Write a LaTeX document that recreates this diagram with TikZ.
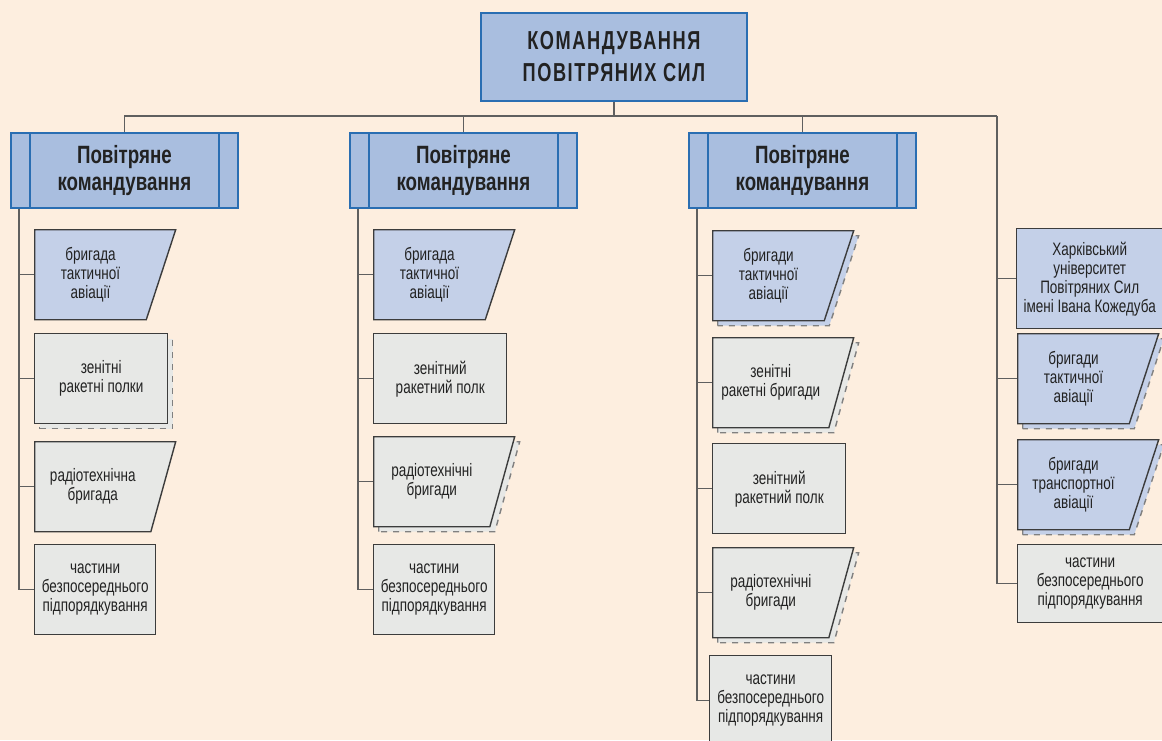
\documentclass[tikz,border=0pt]{standalone}
\usepackage{fontspec}
\setmainfont{Liberation Sans}[FakeStretch=0.75]
\newfontfamily\capsfont{Liberation Sans}[FakeStretch=0.7, LetterSpace=6]
\usepackage{tikz}
\usetikzlibrary{positioning, shapes.geometric, shadows}

\definecolor{paper}{RGB}{253,238,223}
\definecolor{headblue}{RGB}{169,190,223}
\definecolor{headline}{RGB}{42,110,178}
\definecolor{leafblue}{RGB}{196,208,232}
\definecolor{leafgray}{RGB}{231,232,230}
\definecolor{leafline}{RGB}{60,60,60}
\definecolor{wirecol}{RGB}{95,95,95}
\definecolor{ink}{RGB}{34,34,34}

\begin{document}
\begin{tikzpicture}[x=0.5pt, y=-0.5pt,
    wire/.style={draw=wirecol, line width=0.7pt},
    topbox/.style={draw=headline, line width=0.9pt, fill=headblue, minimum width=133pt, minimum height=44pt, align=center, text=ink, font=\capsfont\bfseries\fontsize{13}{16}\selectfont, anchor=north west},
    headbox/.style={draw=headline, line width=0.9pt, fill=headblue, minimum width=113.5pt, minimum height=37.5pt, align=center, text=ink, font=\bfseries\fontsize{12.5}{13.5}\selectfont, anchor=north west,
        path picture={\draw[headline, line width=0.9pt]
            ([xshift=9.5pt]path picture bounding box.north west) -- ([xshift=9.5pt]path picture bounding box.south west)
            ([xshift=-9.5pt]path picture bounding box.north east) -- ([xshift=-9.5pt]path picture bounding box.south east);}},
    unitbox/.style={draw=leafline, line width=0.7pt, align=center, text=ink, font=\fontsize{9}{9.5}\selectfont, inner sep=1pt, anchor=north west, minimum height=45pt},
    unitslant/.style={unitbox, trapezium, trapezium left angle=90, trapezium right angle=#1, trapezium stretches body=true, minimum width=70.5pt, anchor=top left corner},
    unitslant/.default=116.6,
    paperstack/.style={copy shadow={shadow xshift=2.5pt, shadow yshift=-2.5pt, fill=#1, draw=gray, dashed}},
]
\fill[paper] (0,0) rectangle (1162,740);
\useasboundingbox (0,0) rectangle (1162,740);

% top of the tree
\node[topbox] (vps) at (480,12) {КОМАНДУВАННЯ\\ПОВІТРЯНИХ СИЛ};
\node[headbox] (pk1) at (10,132) {Повітряне\\командування};
\node[headbox] (pk2) at (349,132) {Повітряне\\командування};
\node[headbox] (pk3) at (688,132) {Повітряне\\командування};

% first command
\node[unitslant, fill=leafblue] (ta1) at (34,229) {бригада\\тактичної\\авіації};
\node[unitbox, fill=leafgray, minimum width=66.5pt, paperstack=leafgray] (zrp1) at (34,333) {зенітні\\ракетні полки};
\node[unitslant=122, fill=leafgray] (rtb1) at (34,441) {радіотехнічна\\бригада};
\node[unitbox, fill=leafgray, minimum width=60.5pt] (chb1) at (34,544) {частини\\безпосереднього\\підпорядкування};

% second command
\node[unitslant, fill=leafblue] (ta2) at (373,229) {бригада\\тактичної\\авіації};
\node[unitbox, fill=leafgray, minimum width=66.5pt] (zrp2) at (373,333) {зенітний\\ракетний полк};
\node[unitslant=122, fill=leafgray, paperstack=leafgray] (rtb2) at (373,436) {радіотехнічні\\бригади};
\node[unitbox, fill=leafgray, minimum width=60.5pt] (chb2) at (373,544) {частини\\безпосереднього\\підпорядкування};

% third command
\node[unitslant, fill=leafblue, paperstack=leafblue] (ta3) at (712,230) {бригади\\тактичної\\авіації};
\node[unitslant=122, fill=leafgray, paperstack=leafgray] (zrb3) at (712,337) {зенітні\\ракетні бригади};
\node[unitbox, fill=leafgray, minimum width=66.5pt] (zrp3) at (712,443) {зенітний\\ракетний полк};
\node[unitslant=122, fill=leafgray, paperstack=leafgray] (rtb3) at (712,547) {радіотехнічні\\бригади};
\node[unitbox, fill=leafgray, minimum width=61pt] (chb3) at (709,655) {частини\\безпосереднього\\підпорядкування};

% directly subordinated
\node[unitbox, fill=leafblue, minimum width=73pt, minimum height=50pt] (ukr) at (1016,228) {Харківський\\університет\\Повітряних Сил\\імені Івана Кожедуба};
\node[unitslant, fill=leafblue, paperstack=leafblue] (ta4) at (1017,333) {бригади\\тактичної\\авіації};
\node[unitslant, fill=leafblue, paperstack=leafblue] (tr4) at (1017,439) {бригади\\транспортної\\авіації};
\node[unitbox, fill=leafgray, minimum width=72.5pt, minimum height=39pt] (chb4) at (1017,544) {частини\\безпосереднього\\підпорядкування};

% connectors
\coordinate (bus) at (613,116);
\coordinate (r4) at (997,116);
\draw[wire] (vps.south) -- (vps.south |- bus);
\draw[wire] (pk1.north) |- (r4);
\draw[wire] (pk2.north) -- (pk2.north |- bus);
\draw[wire] (pk3.north) -- (pk3.north |- bus);
\foreach \n in {ta1, zrp1, rtb1, chb1}
    \draw[wire] ([xshift=4.5pt]pk1.south west) |- (\n.west);
\foreach \n in {ta2, zrp2, rtb2, chb2}
    \draw[wire] ([xshift=4.5pt]pk2.south west) |- (\n.west);
\foreach \n in {ta3, zrb3, zrp3, rtb3, chb3}
    \draw[wire] ([xshift=4.5pt]pk3.south west) |- (\n.west);
\foreach \n in {ukr, ta4, tr4, chb4}
    \draw[wire] (r4) |- (\n.west);
\end{tikzpicture}
\end{document}
